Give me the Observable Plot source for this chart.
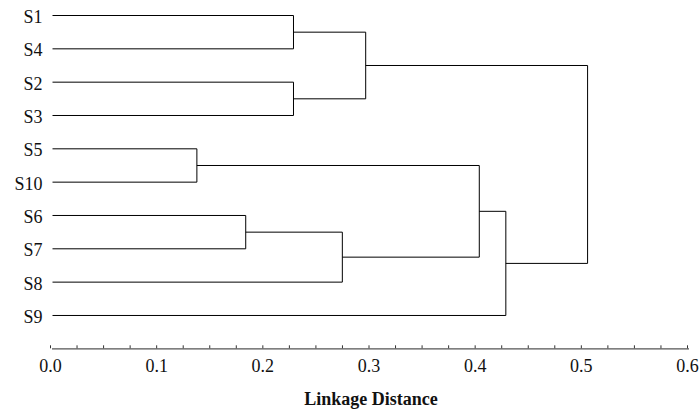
<!DOCTYPE html>
<html>
<head>
<meta charset="utf-8">
<script src="https://cdn.jsdelivr.net/npm/d3@7"></script>
<script src="https://cdn.jsdelivr.net/npm/@observablehq/plot@0.6"></script>
<style>
  html, body { margin: 0; padding: 0; background: #fff; }
  svg { display: block; }
  #chart svg, #chart svg text { font-family: "Liberation Serif", "Times New Roman", serif; }
</style>
</head>
<body>
<div id="chart"></div>
<script>
// Leaf order (top to bottom)
const leaves = ["S1", "S4", "S2", "S3", "S5", "S10", "S6", "S7", "S8", "S9"];
// Merges: cluster Ck is the k-th merge (1-based)
const mergeA = ["S1", "S2", "S5", "S6", "C4", "C1", "C3", "C7", "C6"];
const mergeB = ["S4", "S3", "S10", "S7", "S8", "C2", "C5", "S9", "C8"];
const mergeHeight = [0.227, 0.227, 0.136, 0.182, 0.273, 0.295, 0.402, 0.427, 0.504];
// Axis ticks
const majorTicks = [0, 0.1, 0.2, 0.3, 0.4, 0.5, 0.6];
const minorTicks = d3.range(0, 25).map(i => i * 0.025);
const xLabel = "Linkage Distance";

// Build node positions
const pos = new Map();
leaves.forEach((name, i) => pos.set(name, {x: 0, y: i}));
const segments = [];
mergeA.forEach((a, i) => {
  const b = mergeB[i];
  const h = mergeHeight[i];
  const pa = pos.get(a), pb = pos.get(b);
  segments.push({x1: pa.x, y1: pa.y, x2: h, y2: pa.y});
  segments.push({x1: pb.x, y1: pb.y, x2: h, y2: pb.y});
  segments.push({x1: h, y1: pa.y, x2: h, y2: pb.y});
  pos.set("C" + (i + 1), {x: h, y: (pa.y + pb.y) / 2});
});

const fmt = d3.format(".1f");
const isMajor = d => majorTicks.some(m => Math.abs(m - d) < 1e-9);
const serif = "'Liberation Serif', 'Times New Roman', serif";

const chart = Plot.plot({
  width: 700,
  height: 416,
  marginLeft: 52,
  marginRight: 11,
  marginTop: 15,
  marginBottom: 67.7,
  style: "font-family: 'Liberation Serif', 'Times New Roman', serif; font-size: 18px; color: #111; background: #fff;",
  x: {domain: [0, 0.6]},
  y: {domain: [0, 10], reverse: true},
  marks: [
    Plot.ruleY([leaves.length], {stroke: "#555", strokeWidth: 1.3}),
    Plot.axisX({ticks: minorTicks, tickSize: -3, tickPadding: 13.9, stroke: "#333", dx: -2,
      tickFormat: d => isMajor(d) ? fmt(d) : "", fontSize: 18, fontFamily: serif}),
    Plot.axisY({ticks: d3.range(leaves.length), tickSize: 0, tickPadding: 10, dy: 1.7,
      tickFormat: d => leaves[d], fontSize: 18, fontFamily: serif}),
    Plot.link(segments, {x1: "x1", y1: "y1", x2: "x2", y2: "y2", stroke: "#000", strokeWidth: 1}),
    Plot.text([xLabel], {frameAnchor: "bottom", dy: 56.6, fontWeight: "bold", fontSize: 18, fontFamily: serif, text: d => d})
  ]
});
document.getElementById("chart").appendChild(chart);
</script>
</body>
</html>
